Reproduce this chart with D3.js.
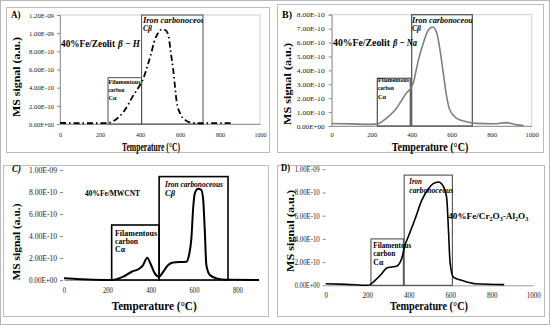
<!DOCTYPE html>
<html><head><meta charset="utf-8">
<script src="https://cdnjs.cloudflare.com/ajax/libs/d3/7.8.5/d3.min.js"></script>
<style>
body{margin:0;background:#fff}
svg{display:block}
text{font-family:"Liberation Serif","Times New Roman",serif}
</style>
</head><body>
<svg id="c" width="550" height="325"></svg>
<script>
// ---------- DATA ----------
const tempA   = [0,50,100,150,200,240,260,280,300,320,340,360,380,400,420,440,455,470,490,508,525,542,553,567,575,583,600,625,658,700,800,867];
const signalA = [0.012e-9,0.010e-9,0.008e-9,0.008e-9,0.008e-9,0.010e-9,0.025e-9,0.05e-9,0.09e-9,0.14e-9,0.21e-9,0.29e-9,0.36e-9,0.43e-9,0.52e-9,0.66e-9,0.77e-9,0.90e-9,1.00e-9,1.04e-9,1.035e-9,0.98e-9,0.80e-9,0.58e-9,0.41e-9,0.25e-9,0.12e-9,0.045e-9,0.015e-9,0.008e-9,0.010e-9,0.010e-9];

const tempB   = [0,100,200,230,250,283,317,350,375,395,410,425,440,458,483,505,525,541,558,575,591,625,675,725,808,875,925,960];
const signalB = [0.18e-10,0.15e-10,0.12e-10,0.15e-10,0.30e-10,0.67e-10,1.15e-10,1.85e-10,2.40e-10,2.70e-10,3.20e-10,4.20e-10,5.10e-10,5.95e-10,6.90e-10,7.12e-10,6.70e-10,5.50e-10,3.80e-10,2.10e-10,1.15e-10,0.55e-10,0.31e-10,0.19e-10,0.16e-10,0.24e-10,0.08e-10,0.04e-10];

const tempC   = [0,135,220,273,312,350,365,384,399,419,438,458,481,504,565,577,588,596,604,619,633,642,650,657,673,704,750,900];
const signalC = [0.015e-9,0.002e-9,0,0.03e-9,0.075e-9,0.106e-9,0.136e-9,0.203e-9,0.15e-9,0.06e-9,0.03e-9,0.075e-9,0.136e-9,0.16e-9,0.166e-9,0.227e-9,0.38e-9,0.65e-9,0.79e-9,0.83e-9,0.82e-9,0.74e-9,0.44e-9,0.136e-9,0.045e-9,0.015e-9,0.002e-9,0];

const tempD   = [0,100,205,238,270,294,318,342,366,382,398,430,462,494,518,543,567,583,591,599,615,655,719,860];
const signalD = [0.014e-9,0.008e-9,0,0.043e-9,0.10e-9,0.15e-9,0.158e-9,0.165e-9,0.23e-9,0.345e-9,0.42e-9,0.57e-9,0.73e-9,0.83e-9,0.876e-9,0.89e-9,0.85e-9,0.75e-9,0.49e-9,0.20e-9,0.07e-9,0.043e-9,0.014e-9,0.006e-9];

// region boxes: [start, end, top]
const boxFilA = [240,408,0.51e-9], boxIronA = [408,715,1.2e-9];
const boxFilB = [228,393,3.43e-10], boxIronB = [400,703,8e-10];
const boxFilC = [220,439,0.5e-9],  boxIronC = [439,757,0.94e-9];
const boxFilD = [218,374,0.40e-9], boxIronD = [378,610,0.95e-9];

// ticks
const xTicksA = [0,200,400,600,800,1000];
const yTicksA = [0,2e-10,4e-10,6e-10,8e-10,1e-9,1.2e-9];
const xTicksB = [0,200,400,600,800,1000];
const yTicksB = [0,1e-10,2e-10,3e-10,4e-10,5e-10,6e-10,7e-10,8e-10];
const xTicksC = [0,200,400,600,800];
const yTicksC = [0,2e-10,4e-10,6e-10,8e-10,1e-9];
const xTicksD = [0,200,400,600,800,1000];
const yTicksD = [0,2e-10,4e-10,6e-10,8e-10,1e-9];

const panelLetters = ["A)","B)","C)","D)"];

// ---------- HELPERS ----------
function sci(v){
  if(v===0) return "0.00E+00";
  const e=Math.floor(Math.log10(v)+1e-9);
  const m=v/Math.pow(10,e);
  return m.toFixed(2)+"E"+(e<0?"-":"+")+String(Math.abs(e)).padStart(2,"0");
}
const svg=d3.select("#c");
svg.append("rect").attr("x",0.5).attr("y",0.5).attr("width",549).attr("height",324)
  .attr("fill","#fff").attr("stroke","#b8b8b8");

function T(g,x,y,s,o){
  const t=g.append("text").attr("x",x).attr("y",y)
    .attr("font-size",o.size||8).attr("font-weight",o.weight||"bold")
    .attr("font-style",o.style||"normal").attr("fill",o.fill||"#000")
    .attr("text-anchor",o.anchor||"start");
  if(o.len){t.attr("textLength",o.len).attr("lengthAdjust","spacingAndGlyphs");}
  if(o.rot){t.attr("transform",`rotate(-90,${x},${y})`);}
  if(s!==null) t.text(s);
  return t;
}
// squash a (multi-tspan) text horizontally to a target width
function fit(t,x,w){
  const bw=t.node().getBBox().width;
  const s=w/bw;
  t.attr("transform",`translate(${x},0) scale(${s},1) translate(${-x},0)`);
}

let clipN=0;
function panel(c){
  const g=svg.append("g");
  g.append("rect").attr("x",c.frame[0]+0.5).attr("y",c.frame[1]+0.5)
    .attr("width",c.frame[2]-c.frame[0]).attr("height",c.frame[3]-c.frame[1])
    .attr("fill","none").attr("stroke","#bdbdbd").attr("stroke-width",1);
  const x=d3.scaleLinear().domain([0,c.xmax]).range([c.x0,c.x1]);
  const y=d3.scaleLinear().domain([0,c.ymax]).range([c.y0,c.y1]);

  if(c.plotBorder){
    g.append("rect").attr("x",c.x0).attr("y",c.y1).attr("width",c.x1-c.x0).attr("height",c.y0-c.y1)
      .attr("fill","none").attr("stroke","#cfcfcf");
  }
  // y axis
  const ya=g.append("g").attr("transform",`translate(${c.x0 - (c.yShift||0)},0)`)
    .call(d3.axisLeft(y).tickValues(c.yTicks).tickFormat(sci).tickSize(3).tickPadding(c.yPad));
  ya.select(".domain").attr("stroke",c.yDomain?"#9a9a9a":"none");
  ya.selectAll(".tick line").attr("stroke","#8a8a8a");
  ya.selectAll(".tick text").attr("font-size",c.tickSize).attr("fill","#222")
    .attr("font-family","Liberation Serif")
    .attr("textLength",c.yLabLen).attr("lengthAdjust","spacingAndGlyphs");
  // x axis
  const xa=g.append("g").attr("transform",`translate(0,${c.y0})`)
    .call(d3.axisBottom(x).tickValues(c.xTicks).tickFormat(d3.format("d")).tickSize(0));
  xa.select(".domain").attr("stroke","#9a9a9a");
  xa.selectAll(".tick text").attr("font-size",c.tickSize).attr("fill","#222")
    .attr("font-family","Liberation Serif").attr("dy",null).attr("y",c.xLabOff)
    .attr("textLength",d=>String(d).length*c.xCharW).attr("lengthAdjust","spacingAndGlyphs");

  // boxes
  [c.boxFil,c.boxIron].forEach(b=>{
    g.append("rect").attr("x",x(b[0])).attr("y",y(b[2]))
      .attr("width",x(b[1])-x(b[0])).attr("height",y(0)-y(b[2]))
      .attr("fill","none").attr("stroke",c.boxColor).attr("stroke-width",c.boxW);
  });

  // curve
  const pts=c.temp.map((t,i)=>[t,c.sig[i]]);
  g.append("path").datum(pts)
    .attr("d",d3.line().x(d=>x(d[0])).y(d=>y(d[1])).curve(d3.curveMonotoneX))
    .attr("fill","none").attr("stroke",c.lineColor).attr("stroke-width",c.lineW)
    .attr("stroke-dasharray",c.dash||null).attr("stroke-linejoin","round");

  // clip for iron text
  const cid="clip"+(clipN++);
  svg.append("clipPath").attr("id",cid).append("rect")
    .attr("x",x(c.boxIron[0])).attr("y",y(c.boxIron[2])-2)
    .attr("width",c.clipIron?(x(c.boxIron[1])-x(c.boxIron[0])):400).attr("height",200);
  const tg=g.append("g").attr("clip-path",`url(#${cid})`);
  c.ironText.forEach(r=>T(tg,r[0],r[1],r[2],{size:c.ironSize,style:"italic",len:r[3]}));
  c.filText.forEach(r=>T(g,r[0],r[1],r[2],{size:c.filSize,len:r[3]}));

  // letters/titles
  T(g,c.letter[0],c.letter[1],c.letterTxt,{size:10.5,style:c.letterStyle||"normal",len:c.letter[2]});
  T(g,c.yTitle[0],c.yTitle[1],"MS signal (a.u.)",{size:10.5,anchor:"middle",len:c.yTitle[2],rot:true});
  T(g,c.xTitle[0],c.xTitle[1],"Temperature  (°C)",{size:11.5,len:c.xTitle[2]});
  c.labels(g);
}

const A={frame:[6,7,269,152],x0:60,x1:260,y0:124,y1:15,xmax:1000,ymax:1.2e-9,plotBorder:true,yDomain:true,
  xTicks:xTicksA,yTicks:yTicksA,yPad:3,tickSize:7,yLabLen:25,xLabOff:12.5,xCharW:3.0,
  boxFil:boxFilA,boxIron:boxIronA,boxColor:"#505050",boxW:1,clipIron:true,
  temp:tempA,sig:signalA,lineColor:"#000",lineW:1.8,dash:"6,3,1.5,3",
  ironSize:7.5,ironText:[[143,22.5,"Iron carbonoceous",66],[143,31,"Cβ",9]],
  filSize:6.5,filText:[[108.5,84,"Filamentous",32],[108.5,91.5,"carbon",16],[108.5,99.5,"Cα",8]],
  letterTxt:panelLetters[0],letter:[11,18,9.5],yTitle:[19.5,77,80],xTitle:[122,150.5,58],
  labels:g=>{
    T(g,61,46.5,"40%Fe/Zeolit",{size:10,len:54});
    T(g,118,46.5,"β − H",{size:10,style:"italic",len:22});
  }};

const B={frame:[277,4,543,152],x0:331.7,x1:531.7,y0:126,y1:14.7,xmax:1000,ymax:8e-10,plotBorder:true,yDomain:true,
  xTicks:xTicksB,yTicks:yTicksB,yPad:4,tickSize:7,yLabLen:28,xLabOff:10.5,xCharW:3.3,
  boxFil:boxFilB,boxIron:boxIronB,boxColor:"#505050",boxW:1.2,clipIron:true,
  temp:tempB,sig:signalB,lineColor:"#7f7f7f",lineW:1.6,
  ironSize:7.5,ironText:[[412,22.7,"Iron carbonoceous",64],[412,30.7,"Cβ",9]],
  filSize:6.5,filText:[[378,81.7,"Filamentous",31],[378,90,"carbon",16],[378,99,"Cα",8]],
  letterTxt:panelLetters[1],letter:[282,18,10],yTitle:[290.5,84,82],xTitle:[391.7,150.5,76.6],
  labels:g=>{
    T(g,333,45.7,"40%Fe/Zeolit",{size:10,len:57});
    T(g,393,45.7,"β − Na",{size:10,style:"italic",len:24});
  }};

const C={frame:[3,165,268,316],x0:64,x1:259,y0:280,y1:170,xmax:900,ymax:1e-9,plotBorder:false,yDomain:false,yShift:1,
  xTicks:xTicksC,yTicks:yTicksC,yPad:3,tickSize:7.5,yLabLen:28,xLabOff:12.5,xCharW:3.3,
  boxFil:boxFilC,boxIron:boxIronC,boxColor:"#000",boxW:1.6,clipIron:false,
  temp:tempC,sig:signalC,lineColor:"#000",lineW:2,
  ironSize:8,ironText:[[165,186.7,"Iron carbonoceous",58],[165,195.7,"Cβ",10]],
  filSize:8,filText:[[115,236,"Filamentous",42],[115,244.3,"carbon",23],[115,252.3,"Cα",10]],
  letterTxt:panelLetters[2],letterStyle:"italic",letter:[12,172,9],yTitle:[19.5,242,77],xTitle:[111.7,310,85],
  labels:g=>{ T(g,85,195.7,"40%Fe/MWCNT",{size:8.5,len:55}); }};

const D={frame:[277,165,544,316],x0:325.7,x1:533.3,y0:285.3,y1:169.3,xmax:1000,ymax:1e-9,plotBorder:false,yDomain:false,
  xTicks:xTicksD,yTicks:yTicksD,yPad:3,tickSize:7.5,yLabLen:25,xLabOff:12.5,xCharW:3.5,
  boxFil:boxFilD,boxIron:boxIronD,boxColor:"#404040",boxW:1,clipIron:false,
  temp:tempD,sig:signalD,lineColor:"#000",lineW:1.6,
  ironSize:8,ironText:[[409.3,183.7,"Iron",12.4],[409.3,192.7,"carbonoceous",44]],
  filSize:8,filText:[[373.3,248,"Filamentous",38],[373.3,256.3,"carbon",22],[373.3,265.3,"Cα",10]],
  letterTxt:panelLetters[3],letter:[281,171.3,9],yTitle:[293.5,231,82],xTitle:[390,310.3,78],
  labels:g=>{
    const t=T(g,448.3,219.3,null,{size:9});
    const parts=[["Cr",0,9],["2",2,6],["O",-2,9],["3",2,6],["-Al",-2,9],["2",2,6],["O",-2,9],["3",2,6]];
    t.append("tspan").text("40%Fe/");
    parts.forEach(p=>t.append("tspan").attr("dy",p[1]).attr("font-size",p[2]).text(p[0]));
    fit(t,448.3,80);
  }};

[A,B,C,D].forEach(panel);
</script>
</body></html>
